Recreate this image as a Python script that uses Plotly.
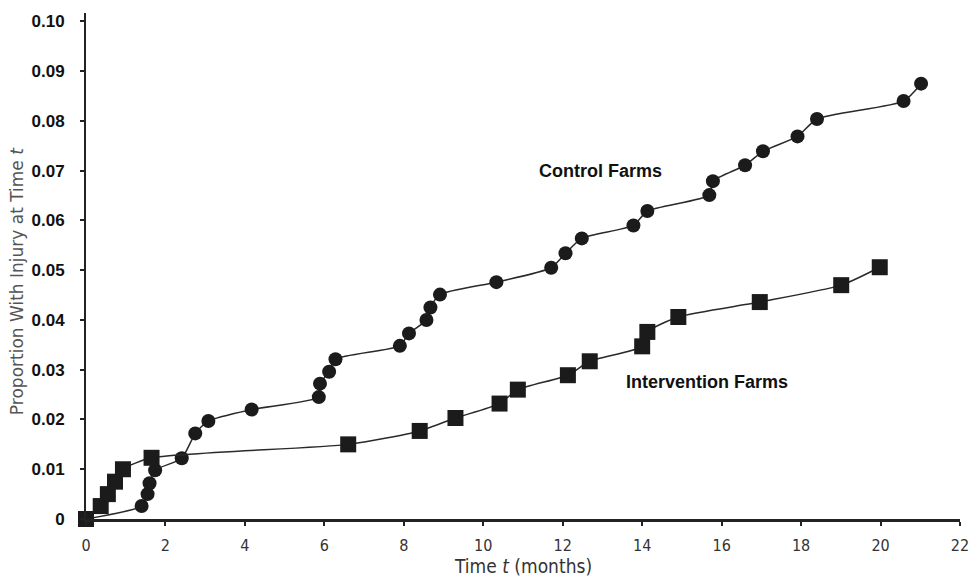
import plotly.graph_objects as go

# Control farms (circles)
control_t = [0, 1.40, 1.55, 1.60, 1.74, 2.41, 2.75, 3.08, 4.17, 5.86, 5.89, 6.12, 6.28,
             7.90, 8.13, 8.57, 8.67, 8.91, 10.33, 11.71, 12.07, 12.48, 13.78, 14.13,
             15.69, 15.78, 16.59, 17.04, 17.91, 18.40, 20.58, 21.02]
control_p = [0, 0.0026, 0.0050, 0.0072, 0.0098, 0.0122, 0.0172, 0.0197, 0.0220, 0.0245,
             0.0272, 0.0296, 0.0321, 0.0348, 0.0373, 0.0400, 0.0425, 0.0451, 0.0476,
             0.0505, 0.0534, 0.0564, 0.0590, 0.0619, 0.0651, 0.0679, 0.0711, 0.0739,
             0.0769, 0.0804, 0.0840, 0.0875]

# Intervention farms (squares)
interv_t = [0, 0.37, 0.55, 0.73, 0.93, 1.65, 6.60, 8.40, 9.30, 10.41, 10.87, 12.13,
            12.68, 14.00, 14.13, 14.91, 16.96, 19.01, 19.98]
interv_p = [0, 0.0026, 0.0050, 0.0075, 0.0100, 0.0123, 0.0150, 0.0177, 0.0203, 0.0232,
            0.0260, 0.0289, 0.0317, 0.0347, 0.0376, 0.0406, 0.0436, 0.0470, 0.0506]

x_ticks = [0, 2, 4, 6, 8, 10, 12, 14, 16, 18, 20, 22]
y_ticks = [0, 0.01, 0.02, 0.03, 0.04, 0.05, 0.06, 0.07, 0.08, 0.09, 0.10]
y_tick_text = ["0", "0.01", "0.02", "0.03", "0.04", "0.05", "0.06", "0.07", "0.08", "0.09", "0.10"]

labels = ["Control Farms", "Intervention Farms"]
label_pos_t = [12.94, 15.64]
label_pos_p = [0.0700, 0.0275]

mark = "#1b1b1b"
line = "#2a2a2a"

fig = go.Figure()
fig.add_trace(go.Scatter(
    x=control_t, y=control_p, mode="lines+markers",
    line=dict(color=line, width=1.5, shape="spline", smoothing=0.6),
    marker=dict(symbol="circle", size=14, color=mark),
    showlegend=False, cliponaxis=False))
fig.add_trace(go.Scatter(
    x=interv_t, y=interv_p, mode="lines+markers",
    line=dict(color=line, width=1.5, shape="spline", smoothing=0.6),
    marker=dict(symbol="square", size=16, color=mark),
    showlegend=False, cliponaxis=False))

for txt, xt, yp in zip(labels, label_pos_t, label_pos_p):
    fig.add_annotation(x=xt, y=yp, text="<b>" + txt + "</b>", showarrow=False,
                       font=dict(family="Liberation Sans, Arial", size=18, color="#111"))

# axis titles as paper annotations for precise placement
fig.add_annotation(xref="paper", yref="paper", x=0.5, y=-0.093, xanchor="center",
                   yanchor="middle", showarrow=False, text="Time <i>t</i> (months)",
                   font=dict(family="DejaVu Sans Condensed, DejaVu Sans", size=19, color="#333"))
fig.add_annotation(xref="paper", yref="paper", x=-0.079, y=0.47, xanchor="center",
                   yanchor="middle", showarrow=False, textangle=-90,
                   text="Proportion With Injury at Time <i>t</i>",
                   font=dict(family="DejaVu Sans", size=17, color="#555"))

fig.update_layout(
    width=970, height=578,
    margin=dict(l=86, r=10, t=13, b=59, autoexpand=False),
    plot_bgcolor="white", paper_bgcolor="white",
    xaxis=dict(range=[0, 22], tickvals=x_ticks, ticks="outside", ticklen=4,
               tickcolor="#222", tickwidth=1.5, automargin=False,
               showline=True, linecolor="#222", linewidth=2.5, showgrid=False,
               zeroline=False, ticklabelstandoff=6, ticklabeloverflow="allow",
               tickfont=dict(family="DejaVu Sans Condensed, DejaVu Sans", size=16, color="#333")),
    yaxis=dict(range=[0, 0.1017], tickvals=y_ticks, ticktext=y_tick_text,
               ticks="outside", ticklen=4, tickcolor="#222", tickwidth=1.5,
               showline=True, linecolor="#222", linewidth=2, showgrid=False,
               zeroline=False, automargin=False, ticklabelstandoff=12,
               ticklabeloverflow="allow",
               tickfont=dict(family="Liberation Sans, Arial", size=17, color="#111",
                             weight="bold")),
)

fig.write_html("out.html", config={"displayModeBar": False},
               post_script="document.body.style.margin='0';document.body.style.overflow='hidden';")
